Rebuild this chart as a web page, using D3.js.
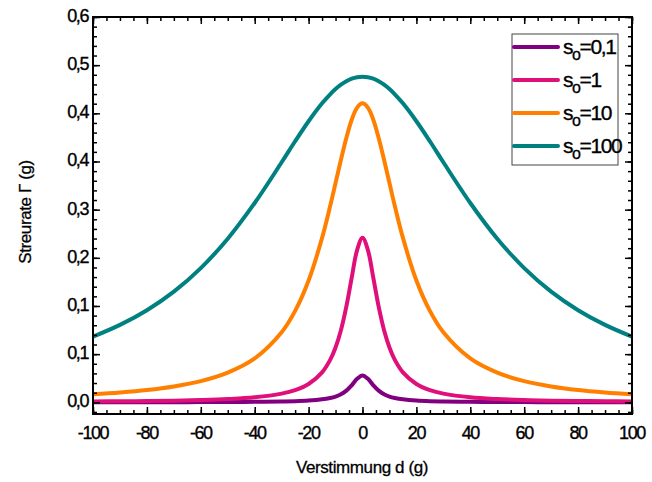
<!DOCTYPE html>
<html lang="de">
<head>
    <meta charset="UTF-8">
    <title>Streurate</title>
    <script src="https://d3js.org/d3.v7.min.js"></script>
    <style>
        body {
            margin: 0;
            background-color: #ffffff;
            font-family: "Liberation Sans", Arial, sans-serif;
        }
        .tick-label {
            font-size: 18px;
            letter-spacing: -1.4px;
            fill: #000;
            stroke: #000;
            stroke-width: 0.35px;
        }
        .axis-title {
            font-size: 17px;
            letter-spacing: -0.4px;
            fill: #000;
            stroke: #000;
            stroke-width: 0.3px;
        }
    </style>
</head>
<body>
    <div id="chart"></div>

    <script>
        // Verstimmung (in Einheiten von gamma)
        const detuning = [-100, -90, -80, -70, -60, -50, -40, -30, -25, -20, -15, -12, -10, -8, -6, -4, -2,
            0, 2, 4, 6, 8, 10, 12, 15, 20, 25, 30, 40, 50, 60, 70, 80, 90, 100];

        // Streurate für die vier Sättigungsparameter
        const rateS01 = [0.0001, 0.0001, 0.0002, 0.0002, 0.0003, 0.0004, 0.0007, 0.0012, 0.0016, 0.0025, 0.0043, 0.0063, 0.0084, 0.0118, 0.0169, 0.0247, 0.0341,
            0.0391, 0.0341, 0.0247, 0.0169, 0.0118, 0.0084, 0.0063, 0.0043, 0.0025, 0.0016, 0.0012, 0.0007, 0.0004, 0.0003, 0.0002, 0.0002, 0.0001, 0.0001];
        const rateS1 = [0.0012, 0.0015, 0.0019, 0.0024, 0.0033, 0.0047, 0.0072, 0.0126, 0.0177, 0.0266, 0.0435, 0.0616, 0.0797, 0.1048, 0.1390, 0.1811, 0.2213,
            0.2390, 0.2213, 0.1811, 0.1390, 0.1048, 0.0797, 0.0616, 0.0435, 0.0266, 0.0177, 0.0126, 0.0072, 0.0047, 0.0033, 0.0024, 0.0019, 0.0015, 0.0012];
        const rateS10 = [0.0116, 0.0143, 0.0179, 0.0231, 0.0308, 0.0431, 0.0637, 0.1017, 0.1328, 0.1770, 0.2390, 0.2852, 0.3187, 0.3525, 0.3842, 0.4107, 0.4283,
            0.4345, 0.4283, 0.4107, 0.3842, 0.3525, 0.3187, 0.2852, 0.2390, 0.1770, 0.1328, 0.1017, 0.0637, 0.0431, 0.0308, 0.0231, 0.0179, 0.0143, 0.0116];
        const rateS100 = [0.0954, 0.1125, 0.1339, 0.1609, 0.1951, 0.2378, 0.2897, 0.3489, 0.3794, 0.4085, 0.4345, 0.4477, 0.4552, 0.4616, 0.4666, 0.4703, 0.4725,
            0.4733, 0.4725, 0.4703, 0.4666, 0.4616, 0.4552, 0.4477, 0.4345, 0.4085, 0.3794, 0.3489, 0.2897, 0.2378, 0.1951, 0.1609, 0.1339, 0.1125, 0.0954];

        const seriesNames = ["0,1", "1", "10", "100"];
        const seriesColors = ["#800080", "#e0107a", "#ff8000", "#008080"];
        const seriesValues = [rateS01, rateS1, rateS10, rateS100];

        // Achsenbeschriftungen
        const xTicks = [-100, -80, -60, -40, -20, 0, 20, 40, 60, 80, 100];
        const yTicks = [0, 0.07, 0.14, 0.21, 0.28, 0.35, 0.42, 0.49, 0.56];
        const yTickLabels = ["0,0", "0,1", "0,1", "0,2", "0,3", "0,4", "0,4", "0,5", "0,6"];

        const width = 652;
        const height = 482;
        const plot = { left: 93, right: 632, top: 17, bottom: 414 };

        const svg = d3.select("#chart")
            .append("svg")
            .attr("width", width)
            .attr("height", height);

        const x = d3.scaleLinear().domain([-100, 100]).range([plot.left, plot.right]);
        const y = d3.scaleLinear().domain([-0.017, 0.56]).range([plot.bottom, plot.top]);

        svg.append("clipPath").attr("id", "clip")
            .append("rect")
            .attr("x", plot.left).attr("y", plot.top)
            .attr("width", plot.right - plot.left)
            .attr("height", plot.bottom - plot.top);

        // Kurven
        const line = d3.line()
            .x((d, i) => x(detuning[i]))
            .y(d => y(d))
            .curve(d3.curveCatmullRom);

        svg.append("g")
            .attr("clip-path", "url(#clip)")
            .selectAll("path")
            .data(seriesValues)
            .enter()
            .append("path")
            .attr("d", d => line(d))
            .attr("fill", "none")
            .attr("stroke", (d, i) => seriesColors[i])
            .attr("stroke-width", 4)
            .attr("stroke-linejoin", "round");

        // Achsen (Ticks nach innen, auf allen Seiten)
        const xMinor = d3.range(-100, 101, 5);
        const yMinor = d3.range(0, 0.561, 0.014).concat([-0.014]);

        svg.append("g")
            .attr("transform", `translate(0,${plot.bottom})`)
            .call(d3.axisBottom(x).tickValues(xMinor).tickSize(-4).tickFormat(""));
        svg.append("g")
            .attr("transform", `translate(0,${plot.bottom})`)
            .call(d3.axisBottom(x).tickValues(xTicks).tickSize(-7).tickFormat(""));
        svg.append("g")
            .attr("transform", `translate(0,${plot.top})`)
            .call(d3.axisTop(x).tickValues(xMinor).tickSize(-4).tickFormat(""));
        svg.append("g")
            .attr("transform", `translate(0,${plot.top})`)
            .call(d3.axisTop(x).tickValues(xTicks).tickSize(-7).tickFormat(""));

        svg.append("g")
            .attr("transform", `translate(${plot.left},0)`)
            .call(d3.axisLeft(y).tickValues(yMinor).tickSize(-4).tickFormat(""));
        svg.append("g")
            .attr("transform", `translate(${plot.left},0)`)
            .call(d3.axisLeft(y).tickValues(yTicks).tickSize(-7).tickFormat(""));
        svg.append("g")
            .attr("transform", `translate(${plot.right},0)`)
            .call(d3.axisRight(y).tickValues(yMinor).tickSize(-4).tickFormat(""));
        svg.append("g")
            .attr("transform", `translate(${plot.right},0)`)
            .call(d3.axisRight(y).tickValues(yTicks).tickSize(-7).tickFormat(""));

        svg.selectAll(".domain").remove();
        svg.selectAll(".tick line").attr("stroke", "#000").attr("stroke-width", 1.5);

        // Rahmen
        svg.append("rect")
            .attr("x", plot.left).attr("y", plot.top)
            .attr("width", plot.right - plot.left)
            .attr("height", plot.bottom - plot.top)
            .attr("fill", "none")
            .attr("stroke", "#000")
            .attr("stroke-width", 2);

        // Beschriftungen
        svg.selectAll(".xlabel")
            .data(xTicks)
            .enter()
            .append("text")
            .attr("class", "tick-label")
            .attr("x", d => x(d))
            .attr("y", 439)
            .attr("text-anchor", "middle")
            .text(d => d);

        svg.selectAll(".ylabel")
            .data(yTicks)
            .enter()
            .append("text")
            .attr("class", "tick-label")
            .attr("x", plot.left - 5)
            .attr("y", d => y(d) + 5)
            .attr("text-anchor", "end")
            .text((d, i) => yTickLabels[i]);

        svg.append("text")
            .attr("class", "axis-title")
            .attr("x", 362)
            .attr("y", 473)
            .attr("text-anchor", "middle")
            .text("Verstimmung d (g)");

        svg.append("text")
            .attr("class", "axis-title")
            .attr("transform", "translate(31,212) rotate(-90)")
            .attr("text-anchor", "middle")
            .text("Streurate Γ (g)");

        // Legende
        const legend = svg.append("g");
        legend.append("rect")
            .attr("x", 512).attr("y", 34)
            .attr("width", 106).attr("height", 131)
            .attr("fill", "#fff")
            .attr("stroke", "#444")
            .attr("stroke-width", 1);

        const entries = legend.selectAll(".entry")
            .data(seriesNames)
            .enter()
            .append("g")
            .attr("transform", (d, i) => `translate(0,${47 + i * 33})`);

        entries.append("line")
            .attr("x1", 514).attr("x2", 558)
            .attr("stroke", (d, i) => seriesColors[i])
            .attr("stroke-width", 4)
            .attr("stroke-linecap", "round");

        const label = entries.append("text")
            .attr("x", 563)
            .attr("y", 7)
            .attr("class", "tick-label")
            .style("font-size", "21px");
        label.append("tspan").text("s");
        label.append("tspan").attr("dy", 6).style("font-size", "16px").text("o");
        label.append("tspan").attr("dy", -6).text(d => "=" + d);
    </script>
</body>
</html>
